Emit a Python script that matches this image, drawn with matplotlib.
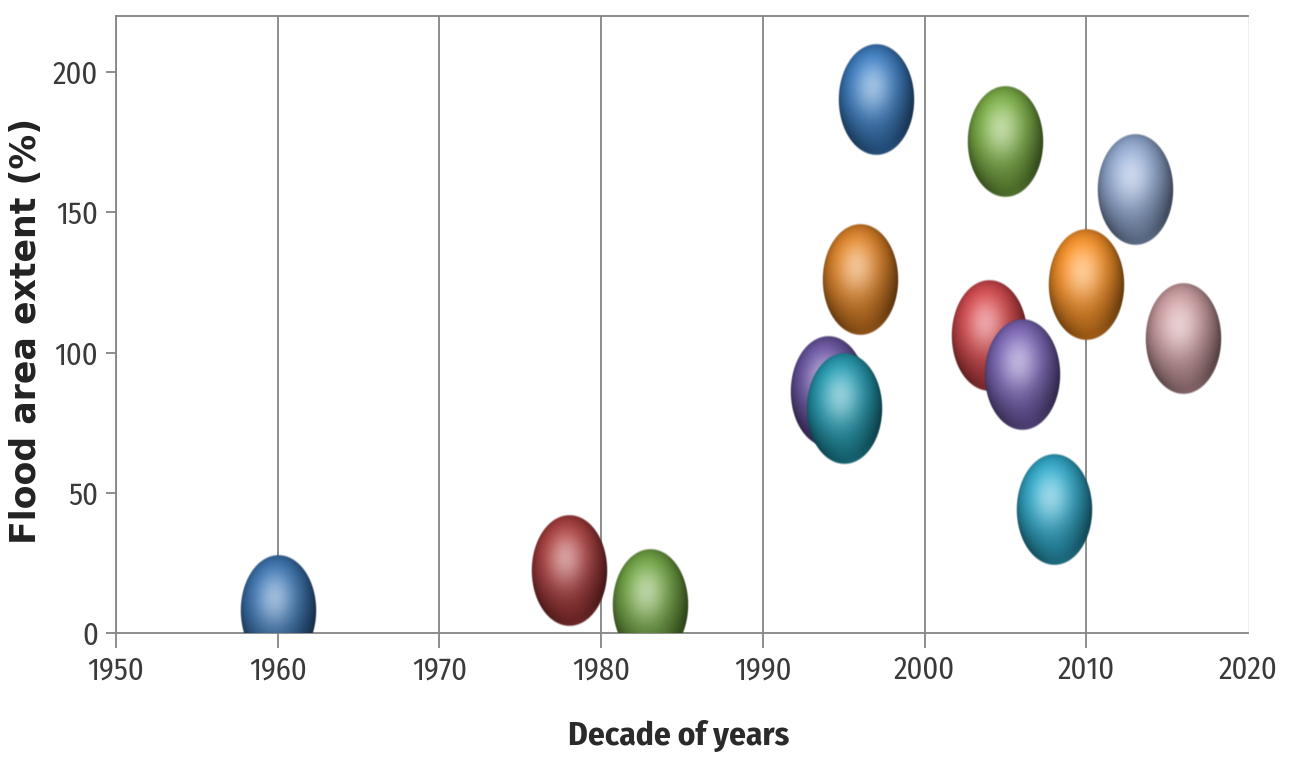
import numpy as np
import matplotlib
matplotlib.use("Agg")
import matplotlib.pyplot as plt
from matplotlib.colors import to_rgb

# Flood events: year of occurrence and flood area extent (%)
years = [1960, 1978, 1983, 1994, 1995, 1996, 1997, 2004, 2005, 2006, 2008, 2010, 2013, 2016]
extent = [8, 22, 10, 86, 80, 126, 190, 106, 175, 92, 44, 124, 158, 105]
colors = ["#33679f", "#983434", "#64933a", "#5e4a92", "#1d8a9e", "#c9741f", "#336fae",
          "#bf3e42", "#6e9d3c", "#6c58a2", "#2898b6", "#e0811f", "#8298bd", "#b78c8f"]

x_ticks = [1950, 1960, 1970, 1980, 1990, 2000, 2010, 2020]
y_ticks = [0, 50, 100, 150, 200]

BUBBLE_W = 4.7   # years
BUBBLE_H = 40.0  # percent

GRAY = "#858585"
TEXT = "#3a3a3a"
TICK_FONT = ["Fira Sans Condensed", "DejaVu Sans"]


def sphere_image(color, n=260):
    base = np.array(to_rgb(color))
    t = np.linspace(-1, 1, n)
    u, v = np.meshgrid(t, t)
    r2 = u ** 2 + v ** 2
    nz = np.sqrt(np.clip(1 - r2, 0, 1))

    def unit(vec):
        vec = np.asarray(vec, float)
        return vec / np.linalg.norm(vec)

    L = unit([-0.22, 0.5, 1.0])
    diff = np.clip(u * L[0] + v * L[1] + nz * L[2], 0, 1)
    H = unit(L + np.array([0, 0, 1.0]))
    nh = np.clip(u * H[0] + v * H[1] + nz * H[2], 0, 1)
    spec = 0.38 * nh ** 10 + 0.12 * nh ** 3
    B = unit([0.15, -0.9, 0.35])
    back = np.clip(u * B[0] + v * B[1] + nz * B[2], 0, 1) ** 4
    shade = 0.45 + 0.7 * diff ** 1.3 + 0.25 * back
    rgb = base[None, None, :] * shade[..., None]
    rgb = rgb + (1 - rgb) * spec[..., None]
    rgb = np.clip(rgb, 0, 1)
    alpha = np.clip((1 - np.sqrt(r2)) / 0.035, 0, 1)
    return np.dstack([rgb, alpha])


fig = plt.figure(figsize=(12.98, 7.59), dpi=100)
ax = fig.add_axes([116 / 1298, 1 - 633 / 759, 1132 / 1298, 617 / 759])

for i, (x, y, c) in enumerate(zip(years, extent, colors)):
    img = sphere_image(c)
    ax.imshow(img, extent=[x - BUBBLE_W / 2, x + BUBBLE_W / 2, y - BUBBLE_H / 2, y + BUBBLE_H / 2],
              origin="lower", aspect="auto", interpolation="bilinear", zorder=3 + i)

ax.set_xlim(1950, 2020)
ax.set_ylim(0, 220)
ax.set_xticks(x_ticks)
ax.set_yticks(y_ticks)
ax.set_xticklabels([str(v) for v in x_ticks])
ax.set_yticklabels([str(v) for v in y_ticks])

ax.xaxis.grid(True, color=GRAY, linewidth=1.3)
ax.set_axisbelow(True)
ax.get_xgridlines()[-1].set_visible(False)

for side in ["left", "bottom", "top"]:
    ax.spines[side].set_color(GRAY)
    ax.spines[side].set_linewidth(1.3)
ax.spines["right"].set_color("#eeeeee")

ax.tick_params(axis="x", length=11, width=1.3, color=GRAY, pad=5, labelcolor=TEXT)
ax.tick_params(axis="y", length=7, width=1.3, color=GRAY, pad=6, labelcolor=TEXT)
for lab in ax.get_xticklabels() + ax.get_yticklabels():
    lab.set_fontfamily(TICK_FONT)
    lab.set_fontsize(22)
ax.xaxis.get_major_ticks()[-1].tick1line.set_visible(False)

ax.set_xlabel("Decade of years", fontsize=24, fontweight="bold", color="#2a2a2a",
              family=TICK_FONT)
ax.xaxis.set_label_coords((679 - 116) / 1132, (633 - 720) / 617)
ax.set_ylabel("Flood area extent (%)", fontsize=25, fontweight="bold", color="#222222",
              family=["DejaVu Sans"])
ax.yaxis.set_label_coords((43 - 116) / 1132, (633 - 331) / 617)

fig.savefig("out.png", dpi=100)
